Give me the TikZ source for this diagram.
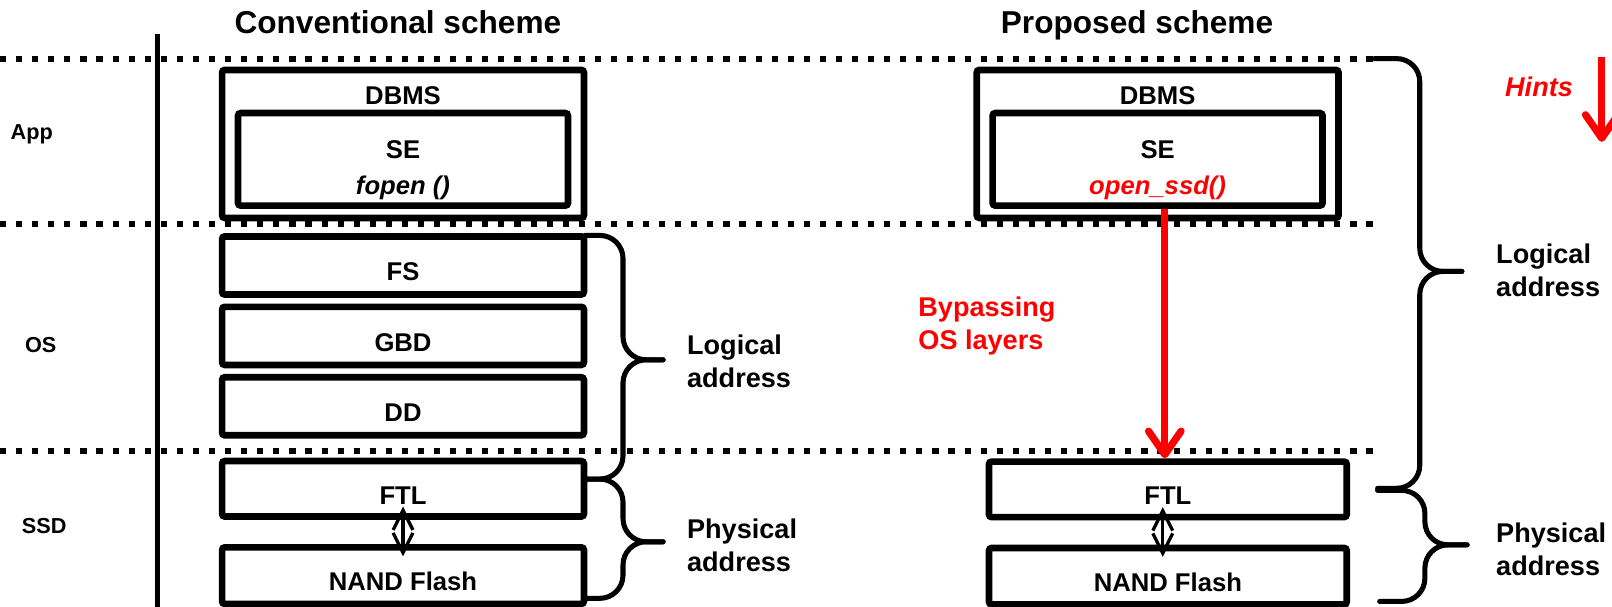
\documentclass[tikz,border=0pt]{standalone}
\usepackage{fontspec}
\setmainfont{Liberation Sans}
\usetikzlibrary{positioning,arrows.meta,calc}

\begin{document}
\begin{tikzpicture}[
  x=0.02cm, y=-0.02cm,
  box/.style={draw,line width=3.7pt,rounded corners=1.5pt,inner sep=0pt,minimum width=7.04cm},
  layer/.style={box,font=\fontsize{14.2}{17}\selectfont\bfseries,text height=17pt,text depth=0pt,minimum height=1.13cm},
  txt/.style={font=\fontsize{14.2}{17}\selectfont\bfseries,anchor=base,inner sep=0pt},
  title/.style={font=\fontsize{17.5}{21}\selectfont\bfseries,anchor=base,inner sep=0pt},
  tier/.style={font=\fontsize{12}{14}\selectfont\bfseries,anchor=base west,inner sep=0pt},
  side/.style={font=\fontsize{15}{18.2}\selectfont\bfseries,align=left,anchor=base west,inner sep=0pt},
  sep/.style={line width=3.4pt,dash pattern=on 3.4pt off 5.5pt},
  brace/.style={line width=2.8pt,rounded corners=0.45cm,line cap=round},
  hint/.style={red,line width=4pt,-{Straight Barb[length=13pt,width=18pt,round]}},
  >={Straight Barb[length=11pt,width=11pt]},
]
\useasboundingbox (0,0) rectangle (1568,590);

% layer separators
\draw[sep] (0,57) -- (1337,57);
\draw[sep] (0,218) -- (1337,218);
\draw[sep] (0,439) -- (1337,439);
\draw[line width=2.8pt] (153,33) -- (153,590);

% titles and tiers
\node[title] (conv) at (387,33) {Conventional scheme};
\node[title] (prop) at (1106,33) {Proposed scheme};
\node[tier] (app) at (10,136) {App};
\node[tier] (os) at (24,343) {OS};
\node[tier] (ssd) at (21,518.5) {SSD};

% conventional stack
\node[box,minimum height=2.88cm] (dbmsL) at (392,140) {};
\node[box,minimum width=6.42cm,minimum height=1.8cm] (seL) at (392,155) {};
\node[txt] (dbmsLt) at (392,102) {DBMS};
\node[txt] (seLt) at (392,154) {SE};
\node[txt] (fopen) at (392,189) {\itshape fopen ()};
\node[layer,below=0.23cm of dbmsL] (fsL) {FS};
\node[layer,below=0.11cm of fsL] (gbdL) {GBD};
\node[layer,below=0.11cm of gbdL] (ddL) {DD};
\node[layer,below=0.37cm of ddL,minimum height=1.08cm] (ftlL) {FTL};
\node[layer,below=0.47cm of ftlL,minimum height=1.1cm] (nandL) {NAND Flash};
\draw[<->,line width=1.8pt] ($(ftlL.south)+(0,-13)$) -- ($(nandL.north)+(0,12)$);

% proposed stack
\node[box,minimum height=2.88cm] (dbmsR) at (1126,140) {};
\node[box,minimum width=6.42cm,minimum height=1.8cm] (seR) at (1126,155) {};
\node[txt] (dbmsRt) at (1126,102) {DBMS};
\node[txt] (seRt) at (1126,154) {SE};
\node[txt,red] (openssd) at (1126,189) {\itshape open\_ssd()};
\node[layer,minimum width=6.96cm,minimum height=1.08cm] (ftlR) at (1136,476) {FTL};
\node[layer,minimum width=6.96cm,minimum height=1.1cm,below=0.47cm of ftlR] (nandR) {NAND Flash};
\draw[<->,line width=1.8pt] ($(ftlR.south)+(-5,-13)$) -- ($(nandR.north)+(-5,12)$);
\draw[hint] ($(seR.south)+(7,0)$) -- ($(ftlR.north)+(-3,0)$);
\node[side,red] (bypass) at (893,339.5) {Bypassing\\OS layers};

% hints
\node[side,red,anchor=base] (hints) at (1497,93.5) {\itshape Hints};
\coordinate (hintTop) at (1558,55);
\coordinate (hintEnd) at (1558,138);
\draw[hint] (hintTop) -- (hintEnd);

% braces, conventional
\draw[brace] (569,229) -| (606,350) -- (645,350);
\draw[brace] (645,350) -| (606,466) -- (569,466);
\draw[brace] (569,466) -| (606,527) -- (645,527);
\draw[brace] (645,527) -| (606,582) -- (569,582);
\node[side] (logL) at (668,376.5) {Logical\\address};
\node[side] (phyL) at (668,555.5) {Physical\\address};

% braces, proposed
\draw[brace] (1337,57) -| (1381,264) -- (1422,264);
\draw[brace] (1422,264) -| (1381,475) -- (1340,475);
\draw[brace] (1340,477) -| (1386,530) -- (1427,530);
\draw[brace] (1427,530) -| (1386,585) -- (1342,585);
\node[side] (logR) at (1455,288.5) {Logical\\address};
\node[side] (phyR) at (1455,559.5) {Physical\\address};
\end{tikzpicture}
\end{document}
